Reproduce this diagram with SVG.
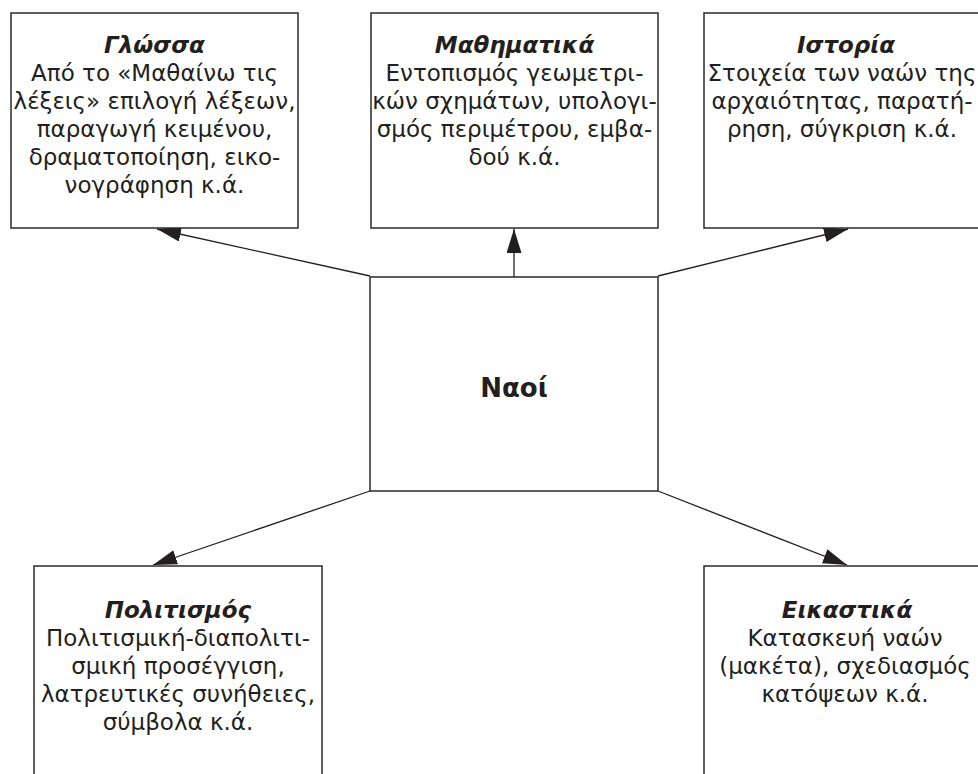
<svg xmlns="http://www.w3.org/2000/svg" width="978" height="774" viewBox="0 0 978 774">
<style>
.box{fill:#fff;stroke:#2a2a2a;stroke-width:1.5}
.t{font-family:"DejaVu Sans","Noto Sans",sans-serif;font-size:23px;fill:#231f20;text-anchor:middle}
.h{font-weight:bold;font-style:italic;font-size:23px}
.c{stroke:#231f20;stroke-width:1.3;fill:none;marker-end:url(#ah)}
</style>
<defs>
<marker id="ah" markerUnits="userSpaceOnUse" markerWidth="26" markerHeight="16" refX="24" refY="7.5" orient="auto">
<path d="M0,0 L24,7.5 L0,15 Z" fill="#231f20"/>
</marker>
</defs>
<rect width="978" height="774" fill="#fff"/>
<g id="connectors">
<line class="c" x1="514" y1="277" x2="514" y2="229"/>
<line class="c" x1="370" y1="276" x2="157" y2="229"/>
<line class="c" x1="658" y1="276" x2="848" y2="229"/>
<line class="c" x1="370" y1="491" x2="153" y2="565"/>
<line class="c" x1="658" y1="491" x2="847" y2="565"/>
</g>
<g id="glossa">
<rect class="box" x="11" y="13" width="287" height="215"/>
<text class="t h" x="154.5" y="53">Γλώσσα</text>
<text class="t" x="154.5" y="81">Από το «Μαθαίνω τις</text>
<text class="t" x="154.5" y="109">λέξεις» επιλογή λέξεων,</text>
<text class="t" x="154.5" y="137">παραγωγή κειμένου,</text>
<text class="t" x="154.5" y="165">δραματοποίηση, εικο-</text>
<text class="t" x="154.5" y="193">νογράφηση κ.ά.</text>
</g>
<g id="mathimatika">
<rect class="box" x="371" y="13" width="287" height="215"/>
<text class="t h" x="514.5" y="53">Μαθηματικά</text>
<text class="t" x="514.5" y="81">Εντοπισμός γεωμετρι-</text>
<text class="t" x="514.5" y="109">κών σχημάτων, υπολογι-</text>
<text class="t" x="514.5" y="137">σμός περιμέτρου, εμβα-</text>
<text class="t" x="514.5" y="165">δού κ.ά.</text>
</g>
<g id="istoria">
<rect class="box" x="704" y="13" width="287" height="215"/>
<text class="t h" x="846" y="53">Ιστορία</text>
<text class="t" x="842" y="81">Στοιχεία των ναών της</text>
<text class="t" x="842" y="109">αρχαιότητας, παρατή-</text>
<text class="t" x="842" y="137">ρηση, σύγκριση κ.ά.</text>
</g>
<g id="naoi">
<rect class="box" x="370" y="277" width="288" height="214"/>
<text class="t" x="514" y="397" style="font-weight:bold;font-size:26px">Ναοί</text>
</g>
<g id="politismos">
<rect class="box" x="34" y="566" width="288" height="220"/>
<text class="t h" x="178" y="618">Πολιτισμός</text>
<text class="t" x="178" y="646">Πολιτισμική-διαπολιτι-</text>
<text class="t" x="178" y="674">σμική προσέγγιση,</text>
<text class="t" x="178" y="702">λατρευτικές συνήθειες,</text>
<text class="t" x="178" y="730">σύμβολα κ.ά.</text>
</g>
<g id="eikastika">
<rect class="box" x="704" y="566" width="288" height="220"/>
<text class="t h" x="847" y="618">Εικαστικά</text>
<text class="t" x="845" y="646">Κατασκευή ναών</text>
<text class="t" x="845" y="674">(μακέτα), σχεδιασμός</text>
<text class="t" x="845" y="702">κατόψεων κ.ά.</text>
</g>
</svg>
